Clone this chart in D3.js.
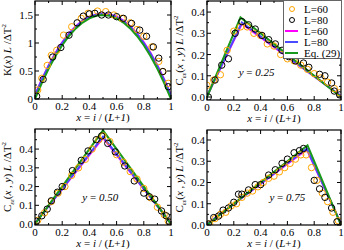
<!DOCTYPE html>
<html lang="en">
<head>
<meta charset="UTF-8">
<title>K(x) and C(x,y)</title>
<style>
  body { margin: 0; background: #fff; }
  svg { display: block; }
  text { font-family: "Liberation Serif", "DejaVu Serif", serif; }
</style>
<script src="https://d3js.org/d3.v7.min.js"></script>
</head>
<body>
<svg width="344" height="250"></svg>
<script>
// ---- panel 1: K(x) L / dT^2 ----
const kL60 = [[0.02,0.16],[0.05,0.37],[0.09,0.60],[0.12,0.78],[0.16,0.87],[0.21,1.14],[0.27,1.29],[0.34,1.44],[0.39,1.53],[0.46,1.57],[0.52,1.56],[0.58,1.50],[0.64,1.44],[0.70,1.36],[0.75,1.24],[0.80,1.12],[0.86,0.93],[0.91,0.67],[0.94,0.49],[0.98,0.28]];
const kL80 = [[0.012,0.05],[0.06,0.35],[0.13,0.75],[0.19,0.92],[0.25,1.14],[0.31,1.36],[0.355,1.48],[0.40,1.52],[0.44,1.53],[0.49,1.50],[0.54,1.50],[0.60,1.47],[0.65,1.44],[0.71,1.35],[0.77,1.23],[0.82,1.12],[0.87,0.93],[0.91,0.73],[0.94,0.49],[0.98,0.22]];
const kLine60 = [[0,0.07],[0.05,0.35],[0.1,0.60],[0.15,0.82],[0.2,1.01],[0.25,1.17],[0.3,1.30],[0.35,1.40],[0.4,1.47],[0.45,1.51],[0.5,1.525],[0.55,1.51],[0.6,1.47],[0.65,1.40],[0.7,1.30],[0.75,1.17],[0.8,1.01],[0.85,0.82],[0.9,0.60],[0.95,0.35],[1,0.07]];
const kLine80 = [[0,0.06],[0.05,0.34],[0.1,0.59],[0.15,0.81],[0.2,1.00],[0.25,1.16],[0.3,1.29],[0.35,1.39],[0.4,1.46],[0.45,1.505],[0.5,1.52],[0.55,1.505],[0.6,1.46],[0.65,1.39],[0.7,1.29],[0.75,1.16],[0.8,1.00],[0.85,0.81],[0.9,0.59],[0.95,0.34],[1,0.06]];
const kEq = [[0,0],[0.05,0.285],[0.1,0.54],[0.15,0.765],[0.2,0.96],[0.25,1.125],[0.3,1.26],[0.35,1.365],[0.4,1.44],[0.45,1.485],[0.5,1.5],[0.55,1.485],[0.6,1.44],[0.65,1.365],[0.7,1.26],[0.75,1.125],[0.8,0.96],[0.85,0.765],[0.9,0.54],[0.95,0.285],[1,0]];

// ---- panel 2: y = 0.25 ----
const c25L60 = [[0.0,0.055],[0.05,0.08],[0.10,0.105],[0.15,0.22],[0.20,0.31],[0.25,0.33],[0.30,0.33],[0.35,0.30],[0.40,0.29],[0.45,0.25],[0.50,0.24],[0.55,0.20],[0.60,0.18],[0.65,0.17],[0.70,0.15],[0.75,0.13],[0.80,0.11],[0.85,0.09],[0.90,0.07],[0.95,0.04],[0.99,0.02]];
const c25L80 = [[0.01,0.0],[0.06,0.08],[0.11,0.15],[0.16,0.18],[0.21,0.30],[0.26,0.355],[0.31,0.34],[0.36,0.32],[0.41,0.29],[0.46,0.27],[0.51,0.25],[0.56,0.22],[0.61,0.19],[0.66,0.17],[0.72,0.16],[0.76,0.14],[0.84,0.107],[0.88,0.10],[0.93,0.066],[0.95,0.028],[0.99,0.01]];
const c25Line60 = [[0,0.005],[0.26,0.345],[1,0.005]];
const c25Line80 = [[0,0.004],[0.26,0.351],[1,0.004]];
const c25Eq = [[0,0],[0.25,0.375],[1,0]];

// ---- panel 3: y = 0.50 ----
const c50L60 = [[0.02,0.02],[0.07,0.06],[0.12,0.12],[0.17,0.165],[0.22,0.20],[0.27,0.26],[0.32,0.30],[0.37,0.345],[0.42,0.40],[0.47,0.45],[0.50,0.47],[0.55,0.44],[0.60,0.37],[0.65,0.33],[0.70,0.28],[0.75,0.24],[0.80,0.19],[0.85,0.14],[0.90,0.09],[0.95,0.05],[0.98,0.015]];
const c50L80 = [[0.01,0.015],[0.05,0.044],[0.09,0.08],[0.12,0.124],[0.165,0.17],[0.20,0.20],[0.275,0.285],[0.34,0.34],[0.39,0.39],[0.45,0.45],[0.49,0.47],[0.535,0.43],[0.59,0.385],[0.66,0.31],[0.73,0.23],[0.80,0.165],[0.84,0.146],[0.88,0.133],[0.93,0.07],[0.965,0.044],[0.99,0.01]];
const c50Line60 = [[0,0.005],[0.5,0.46],[1,0.005]];
const c50Line80 = [[0,0.004],[0.5,0.466],[1,0.004]];
const c50Eq = [[0,0],[0.5,0.5],[1,0]];

// ---- panel 4: y = 0.75 ----
const c75L60 = [[0.02,0.005],[0.06,0.03],[0.10,0.05],[0.14,0.06],[0.18,0.09],[0.22,0.10],[0.26,0.13],[0.30,0.15],[0.34,0.16],[0.38,0.18],[0.42,0.20],[0.46,0.22],[0.50,0.23],[0.54,0.25],[0.58,0.27],[0.62,0.29],[0.66,0.31],[0.70,0.33],[0.74,0.33],[0.78,0.27],[0.82,0.21],[0.86,0.15],[0.90,0.11],[0.94,0.06],[0.98,0.02]];
const c75L80 = [[0.01,0.005],[0.05,0.035],[0.086,0.042],[0.12,0.07],[0.16,0.08],[0.20,0.107],[0.235,0.145],[0.26,0.145],[0.31,0.165],[0.36,0.19],[0.40,0.19],[0.46,0.235],[0.51,0.26],[0.56,0.29],[0.60,0.31],[0.65,0.34],[0.69,0.35],[0.72,0.36],[0.80,0.21],[0.84,0.17],[0.88,0.13],[0.93,0.08],[0.97,0.015]];
const c75Line60 = [[0,0.005],[0.745,0.355],[1,0.005]];
const c75Line80 = [[0,0.004],[0.745,0.36],[1,0.004]];
const c75Eq = [[0,0],[0.75,0.375],[1,0]];

const xTicks = [0, 0.2, 0.4, 0.6, 0.8, 1];
const xTickLabels = ["0", "0.2", "0.4", "0.6", "0.8", "1"];

const colors = { l60: "#ffa500", l80: "#000000", line60: "#ff00ff", line80: "#4a4aff", eq: "#1a9a1a" };

const svg = d3.select("svg");

const panels = [
  { left: 35, right: 171, top: 1, bottom: 99, ydom: [0, 1.75], major: [0, 0.5, 1, 1.5], minorStep: 0.25,
    fmt: d => d3.format("")(d), pts60: kL60, pts80: kL80, line60: kLine60, line80: kLine80, eq: kEq, ylab: "K",
    note: null },
  { left: 207, right: 341, top: 1, bottom: 100, ydom: [-0.014, 0.452], major: [0, 0.1, 0.2, 0.3, 0.4], minorStep: 0.05,
    fmt: d3.format(".1f"), pts60: c25L60, pts80: c25L80, line60: c25Line60, line80: c25Line80, eq: c25Eq, ylab: "C",
    note: "0.25", noteX: 0.37, noteY: 76 },
  { left: 35, right: 171, top: 129, bottom: 225, ydom: [-0.005, 0.507], major: [0, 0.1, 0.2, 0.3, 0.4], minorStep: 0.05,
    fmt: d3.format(".1f"), pts60: c50L60, pts80: c50L80, line60: c50Line60, line80: c50Line80, eq: c50Eq, ylab: "C",
    note: "0.50", noteX: 0.48, noteY: 201 },
  { left: 207, right: 341, top: 130, bottom: 225, ydom: [0, 0.447], major: [0, 0.1, 0.2, 0.3, 0.4], minorStep: 0.05,
    fmt: d3.format(".1f"), pts60: c75L60, pts80: c75L80, line60: c75Line60, line80: c75Line80, eq: c75Eq, ylab: "C",
    note: "0.75", noteX: 0.60, noteY: 201 }
];

panels.forEach(p => {
  const x = d3.scaleLinear().domain([0, 1]).range([p.left, p.right]);
  const y = d3.scaleLinear().domain(p.ydom).range([p.bottom, p.top]);
  const g = svg.append("g");

  // clip so nothing pokes out of the frame
  const cid = "clip" + p.left + "_" + p.top;
  svg.append("clipPath").attr("id", cid).append("rect")
    .attr("x", p.left).attr("y", p.top).attr("width", p.right - p.left).attr("height", p.bottom - p.top);

  const plot = g.append("g").attr("clip-path", `url(#${cid})`);
  const line = d3.line().x(d => x(d[0])).y(d => y(d[1]));

  plot.append("path").datum(p.line60).attr("d", line).attr("fill", "none").attr("stroke", colors.line60).attr("stroke-width", 2);
  plot.append("path").datum(p.line80).attr("d", line).attr("fill", "none").attr("stroke", colors.line80).attr("stroke-width", 2);
  plot.append("path").datum(p.eq).attr("d", line).attr("fill", "none").attr("stroke", colors.eq).attr("stroke-width", 2);

  plot.selectAll(".c60").data(p.pts60).enter().append("circle")
    .attr("cx", d => x(d[0])).attr("cy", d => y(d[1])).attr("r", 3.2)
    .attr("fill", "none").attr("stroke", colors.l60).attr("stroke-width", 1);
  plot.selectAll(".c80").data(p.pts80).enter().append("circle")
    .attr("cx", d => x(d[0])).attr("cy", d => y(d[1])).attr("r", 3.2)
    .attr("fill", "none").attr("stroke", colors.l80).attr("stroke-width", 1);

  // frame
  g.append("rect").attr("x", p.left).attr("y", p.top)
    .attr("width", p.right - p.left).attr("height", p.bottom - p.top)
    .attr("fill", "none").attr("stroke", "#000").attr("stroke-width", 1.2);

  // ticks, inward, on all sides
  const xMinor = d3.range(0.1, 1, 0.2);
  xTicks.forEach(t => {
    g.append("line").attr("x1", x(t)).attr("x2", x(t)).attr("y1", p.bottom).attr("y2", p.bottom - 4).attr("stroke", "#000");
    g.append("line").attr("x1", x(t)).attr("x2", x(t)).attr("y1", p.top).attr("y2", p.top + 4).attr("stroke", "#000");
  });
  xMinor.forEach(t => {
    g.append("line").attr("x1", x(t)).attr("x2", x(t)).attr("y1", p.bottom).attr("y2", p.bottom - 2).attr("stroke", "#000");
    g.append("line").attr("x1", x(t)).attr("x2", x(t)).attr("y1", p.top).attr("y2", p.top + 2).attr("stroke", "#000");
  });
  p.major.forEach(t => {
    g.append("line").attr("x1", p.left).attr("x2", p.left + 4).attr("y1", y(t)).attr("y2", y(t)).attr("stroke", "#000");
    g.append("line").attr("x1", p.right).attr("x2", p.right - 4).attr("y1", y(t)).attr("y2", y(t)).attr("stroke", "#000");
  });
  d3.range(p.minorStep, p.ydom[1], p.minorStep * 2).forEach(t => {
    g.append("line").attr("x1", p.left).attr("x2", p.left + 2).attr("y1", y(t)).attr("y2", y(t)).attr("stroke", "#000");
    g.append("line").attr("x1", p.right).attr("x2", p.right - 2).attr("y1", y(t)).attr("y2", y(t)).attr("stroke", "#000");
  });

  // tick labels
  xTicks.forEach((t, i) => {
    g.append("text").attr("x", x(t)).attr("y", p.bottom + 11).attr("text-anchor", "middle")
      .attr("font-size", 11).text(xTickLabels[i]);
  });
  p.major.forEach(t => {
    g.append("text").attr("x", p.left - 2).attr("y", y(t) + 4).attr("text-anchor", "end")
      .attr("font-size", 11).text(p.fmt(t));
  });

  // x label
  const xl = g.append("text").attr("x", (p.left + p.right) / 2).attr("y", p.bottom + 22)
    .attr("text-anchor", "middle").attr("font-size", 11);
  xl.append("tspan").attr("font-style", "italic").text("x");
  xl.append("tspan").text(" = ");
  xl.append("tspan").attr("font-style", "italic").text("i");
  xl.append("tspan").text(" / (");
  xl.append("tspan").attr("font-style", "italic").text("L");
  xl.append("tspan").text("+");
  xl.append("tspan").attr("font-style", "italic").text("1");
  xl.append("tspan").text(")");

  // y label
  const cy = (p.top + p.bottom) / 2;
  const yl = g.append("text").attr("transform", `translate(${p.left - 24},${cy}) rotate(-90)`)
    .attr("text-anchor", "middle").attr("font-size", 11);
  if (p.ylab === "K") {
    yl.append("tspan").text("K(");
    yl.append("tspan").attr("font-style", "italic").text("x");
    yl.append("tspan").text(") ");
    yl.append("tspan").attr("font-style", "italic").text("L");
    yl.append("tspan").text(" /ΔT");
    yl.append("tspan").attr("font-size", 7).attr("dy", -5).text("2");
  } else {
    yl.append("tspan").text("C");
    yl.append("tspan").attr("font-size", 7).attr("dy", 3).attr("font-style", "italic").text("εε");
    yl.append("tspan").attr("dy", -3).text("(");
    yl.append("tspan").attr("font-style", "italic").text("x");
    yl.append("tspan").text(" , ");
    yl.append("tspan").attr("font-style", "italic").text("y");
    yl.append("tspan").text(") ");
    yl.append("tspan").attr("font-style", "italic").text("L");
    yl.append("tspan").text(" /ΔT");
    yl.append("tspan").attr("font-size", 7).attr("dy", -5).text("2");
  }

  if (p.note) {
    const nt = g.append("text").attr("x", x(p.noteX)).attr("y", p.noteY)
      .attr("text-anchor", "middle").attr("font-size", 11).attr("font-style", "italic");
    nt.append("tspan").text("y");
    nt.append("tspan").attr("font-style", "normal").text(" = ");
    nt.append("tspan").text(p.note);
  }
});

// legend in panel 2
const legend = svg.append("g");
legend.append("rect").attr("x", 283.5).attr("y", 0.5).attr("width", 58).attr("height", 58)
  .attr("fill", "#fff").attr("stroke", "#666").attr("stroke-width", 1);
const legItems = [
  { kind: "circle", color: colors.l60, label: "L=60" },
  { kind: "circle", color: colors.l80, label: "L=80" },
  { kind: "line", color: colors.line60, label: "L=60" },
  { kind: "line", color: colors.line80, label: "L=80" },
  { kind: "line", color: colors.eq, label: "Eq. (29)" }
];
legItems.forEach((d, i) => {
  const yy = 9 + i * 11;
  if (d.kind === "circle") {
    legend.append("circle").attr("cx", 292).attr("cy", yy).attr("r", 2.5)
      .attr("fill", "none").attr("stroke", d.color).attr("stroke-width", 1);
  } else {
    legend.append("line").attr("x1", 285).attr("x2", 298).attr("y1", yy).attr("y2", yy)
      .attr("stroke", d.color).attr("stroke-width", 2);
  }
  legend.append("text").attr("x", 304).attr("y", yy + 4).attr("font-size", 11).text(d.label);
});
</script>
</body>
</html>
